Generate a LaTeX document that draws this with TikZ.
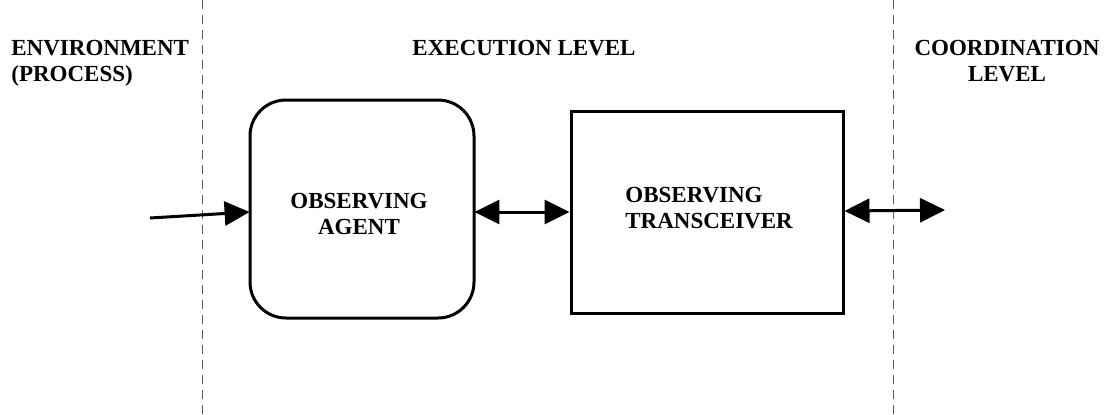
\documentclass[tikz,border=0pt]{standalone}
\usepackage{fontspec}
\setmainfont{Liberation Serif}
\usetikzlibrary{arrows.meta}
\begin{document}
\begin{tikzpicture}[x=0.5pt,y=-0.5pt,
  lbl/.style={font=\fontsize{11.5}{13}\selectfont\bfseries, inner sep=0pt},
  sep/.style={dash pattern=on 4.5pt off 3pt, line width=0.5pt, gray!70!black},
  blk/.style={draw, line width=1.5pt},
  conn/.style={line width=1.5pt, -{Triangle[length=12.5pt,width=12pt]}},
  biconn/.style={line width=1.5pt, {Triangle[length=12.5pt,width=12pt]}-{Triangle[length=12.5pt,width=12pt]}}]
\useasboundingbox (0,0) rectangle (1105,414);
\coordinate (s1t) at (202,0); \coordinate (s1b) at (202,414);
\coordinate (s2t) at (893,0); \coordinate (s2b) at (893,414);
\draw[sep] (s1t) -- (s1b);
\draw[sep] (s2t) -- (s2b);
\node[lbl, align=left, anchor=north west] (env) at (11,40) {ENVIRONMENT\\(PROCESS)};
\node[lbl, anchor=north] (exe) at (524,40) {EXECUTION LEVEL};
\node[lbl, align=center, anchor=north] (coord) at (1007,40) {COORDINATION\\LEVEL};
\draw[blk, rounded corners=18pt] (250,100) rectangle (474,318);
\node[inner sep=0pt, minimum width=112pt, minimum height=109pt] (agent) at (362,209) {};
\node[lbl, align=center] (agentt) at (359,214) {OBSERVING\\AGENT};
\node[blk, inner sep=0pt, minimum width=136pt, minimum height=101pt] (trans) at (707,212) {};
\node[lbl, align=left, anchor=west] (transt) at (625,208) {OBSERVING\\TRANSCEIVER};
\coordinate (in) at (150,218);
\coordinate (out) at (945,210);
\draw[conn] (in) -- (agent.west |- 0,212);
\draw[biconn] (agent.east |- 0,212) -- (trans.west |- 0,212);
\draw[biconn] (trans.east |- 0,211) -- (out);
\end{tikzpicture}
\end{document}
